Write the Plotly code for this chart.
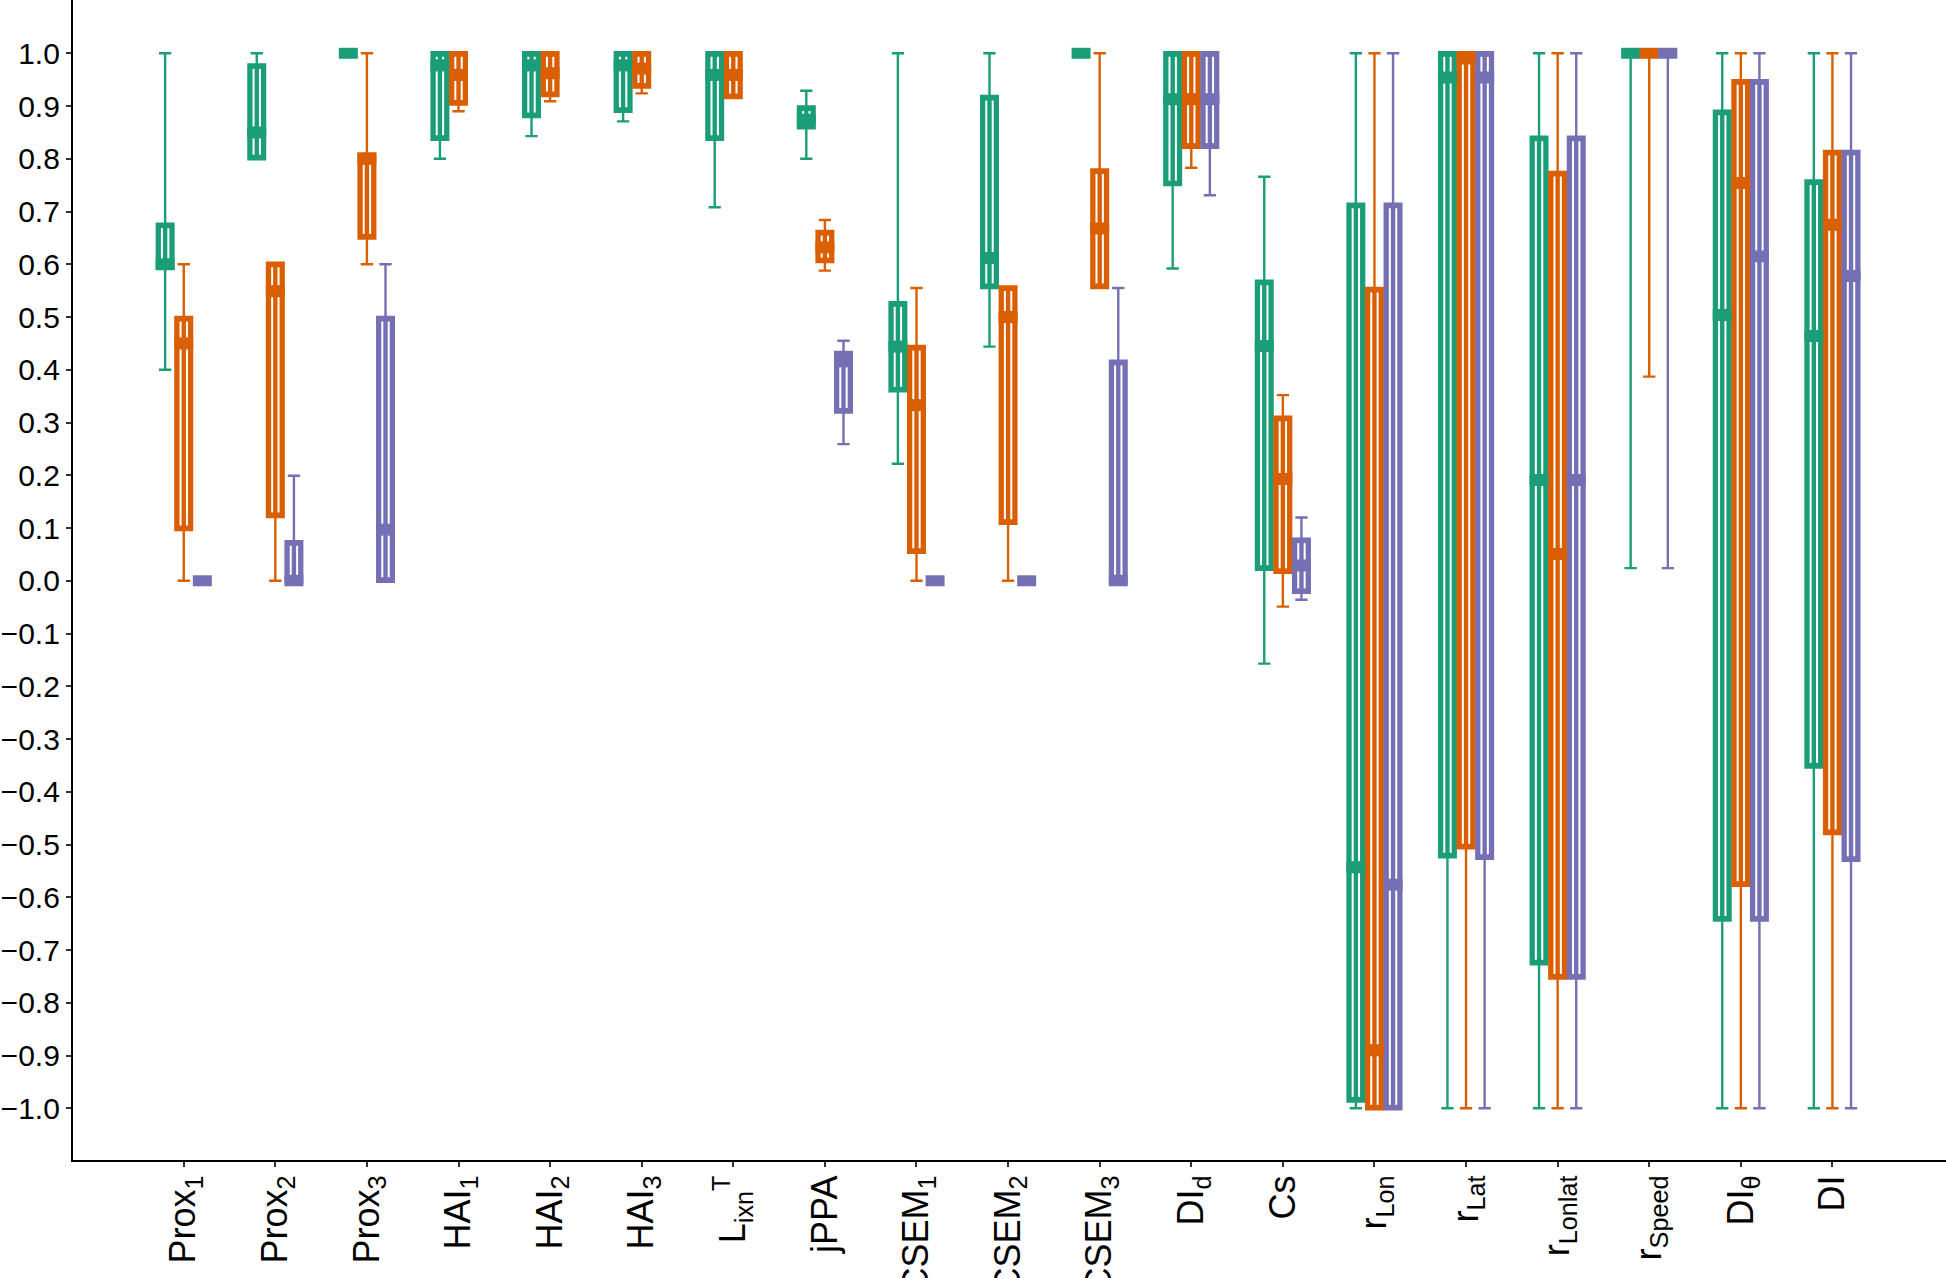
import plotly.graph_objects as go

categories = ["Prox1", "Prox2", "Prox3", "HAI1", "HAI2", "HAI3", "LixnT", "jPPA",
              "CSEM1", "CSEM2", "CSEM3", "DId", "Cs", "rLon", "rLat", "rLonlat",
              "rSpeed", "DItheta", "DI"]
tick_labels = ["Prox<sub>1</sub>", "Prox<sub>2</sub>", "Prox<sub>3</sub>",
               "HAI<sub>1</sub>", "HAI<sub>2</sub>", "HAI<sub>3</sub>",
               "L<sub>ixn</sub><sup>T</sup>", "jPPA",
               "CSEM<sub>1</sub>", "CSEM<sub>2</sub>", "CSEM<sub>3</sub>",
               "DI<sub>d</sub>", "Cs", "r<sub>Lon</sub>", "r<sub>Lat</sub>",
               "r<sub>Lonlat</sub>", "r<sub>Speed</sub>", "DI<sub>θ</sub>", "DI"]
y_tick_values = [round(-1.0 + 0.1 * k, 1) for k in range(21)]

# green series
green_q1 = [0.593, 0.801, 1.0, 0.838, 0.881, 0.891, 0.838, 0.860, 0.361, 0.557, 1.0,
            0.752, 0.023, -0.985, -0.522, -0.725, 1.0, -0.642, -0.352]
green_med = [0.600, 0.850, 1.0, 0.977, 0.977, 0.977, 0.959, 0.874, 0.444, 0.612, 1.0,
             0.913, 0.445, -0.543, 0.954, 0.191, 1.0, 0.504, 0.464]
green_q3 = [0.675, 0.977, 1.0, 1.0, 1.0, 1.0, 1.0, 0.897, 0.526, 0.917, 1.0,
            1.0, 0.567, 0.713, 1.0, 0.840, 1.0, 0.889, 0.757]
green_lo = [0.400, 0.801, 1.0, 0.800, 0.843, 0.871, 0.708, 0.800, 0.222, 0.444, 1.0,
            0.592, -0.157, -1.0, -1.0, -1.0, 0.024, -1.0, -1.0]
green_hi = [1.0, 1.0, 1.0, 1.0, 1.0, 1.0, 1.0, 0.929, 1.0, 1.0, 1.0,
            1.0, 0.766, 1.0, 1.0, 1.0, 1.0, 1.0, 1.0]

# orange series
orange_q1 = [0.098, 0.123, 0.651, 0.905, 0.921, 0.937, 0.917, 0.606, 0.055, 0.110, 0.557,
             0.823, 0.017, -1.0, -0.505, -0.752, 1.0, -0.576, -0.478]
orange_med = [0.450, 0.549, 0.800, 0.959, 0.962, 0.971, 0.959, 0.632, 0.333, 0.500, 0.668,
              0.913, 0.193, -0.890, 0.990, 0.051, 1.0, 0.754, 0.675]
orange_q3 = [0.498, 0.601, 0.808, 1.0, 1.0, 1.0, 1.0, 0.661, 0.443, 0.556, 0.778,
             1.0, 0.309, 0.553, 1.0, 0.773, 1.0, 0.947, 0.813]
orange_lo = [0.0, 0.0, 0.600, 0.890, 0.909, 0.924, 0.917, 0.588, 0.0, 0.0, 0.557,
             0.783, -0.049, -1.0, -1.0, -1.0, 0.387, -1.0, -1.0]
orange_hi = [0.600, 0.601, 1.0, 1.0, 1.0, 1.0, 1.0, 0.684, 0.555, 0.556, 1.0,
             1.0, 0.352, 1.0, 1.0, 1.0, 1.0, 1.0, 1.0]

# purple series (None = not present)
purple_q1 = [0.0, 0.0, 0.0, None, None, None, None, 0.321, 0.0, 0.0, 0.0,
             0.823, -0.021, -1.0, -0.525, -0.752, 1.0, -0.642, -0.529]
purple_med = [0.0, 0.0, 0.097, None, None, None, None, 0.416, 0.0, 0.0, 0.0,
              0.913, 0.029, -0.576, 0.954, 0.191, 1.0, 0.615, 0.578]
purple_q3 = [0.0, 0.073, 0.498, None, None, None, None, 0.432, 0.0, 0.0, 0.415,
             1.0, 0.078, 0.713, 1.0, 0.840, 1.0, 0.947, 0.813]
purple_lo = [0.0, 0.0, 0.0, None, None, None, None, 0.259, 0.0, 0.0, 0.0,
             0.731, -0.036, -1.0, -1.0, -1.0, 0.024, -1.0, -1.0]
purple_hi = [0.0, 0.199, 0.600, None, None, None, None, 0.455, 0.0, 0.0, 0.555,
             1.0, 0.120, 1.0, 1.0, 1.0, 1.0, 1.0, 1.0]

groups = [
    dict(color="#1b9e77", q1=green_q1, med=green_med, q3=green_q3, lo=green_lo, hi=green_hi),
    dict(color="#d95f02", q1=orange_q1, med=orange_med, q3=orange_q3, lo=orange_lo, hi=orange_hi),
    dict(color="#7570b3", q1=purple_q1, med=purple_med, q3=purple_q3, lo=purple_lo, hi=purple_hi),
]

# geometry (styling)
X_RANGE = [-1.209, 19.24]
Y_RANGE = [-1.098, 1.101]
PX_X = 91.6     # pixels per category unit
PX_Y = 527.4    # pixels per value unit
offsets = [-0.203, 0.0, 0.203]
BOX_W = 14.5 / PX_X
BAND_HW = 9.5 / PX_X
STRIP_DX = 3.2 / PX_X
PAD = 3.5 / PX_Y
MED_GAP = 6.0 / PX_Y

fig = go.Figure()
strip_x, strip_y = [], []

for gi, g in enumerate(groups):
    c = g["color"]
    idx = [i for i in range(len(categories)) if g["q1"][i] is not None]
    pos = [i + offsets[gi] for i in idx]
    q1 = [g["q1"][i] for i in idx]
    med = [g["med"][i] for i in idx]
    q3 = [g["q3"][i] for i in idx]
    lo = [g["lo"][i] for i in idx]
    hi = [g["hi"][i] for i in idx]

    # whiskers layer
    fig.add_trace(go.Box(x=pos, q1=q1, median=med, q3=q3, lowerfence=lo, upperfence=hi,
                         width=BOX_W, whiskerwidth=0.85, boxpoints=False,
                         line=dict(color=c, width=2.4), fillcolor=c,
                         showlegend=False, hoverinfo="skip"))
    # thick box body
    fig.add_trace(go.Box(x=pos, q1=q1, median=med, q3=q3, lowerfence=q1, upperfence=q3,
                         width=BOX_W, whiskerwidth=0, boxpoints=False,
                         line=dict(color=c, width=4.5), fillcolor=c,
                         showlegend=False, hoverinfo="skip"))
    # median band
    bx, by = [], []
    for p, m in zip(pos, med):
        bx += [p - BAND_HW, p + BAND_HW, None]
        by += [m, m, None]
    fig.add_trace(go.Scatter(x=bx, y=by, mode="lines", line=dict(color=c, width=11),
                             showlegend=False, hoverinfo="skip"))
    # white inner strips
    for p, a, m, b in zip(pos, q1, med, q3):
        segs = [(a + PAD, m - MED_GAP), (m + MED_GAP, b - PAD)]
        for s0, s1 in segs:
            if s1 - s0 > 0.5 / PX_Y:
                for side in (-1, 1):
                    strip_x += [p + side * STRIP_DX, p + side * STRIP_DX, None]
                    strip_y += [s0, s1, None]

fig.add_trace(go.Scatter(x=strip_x, y=strip_y, mode="lines",
                         line=dict(color="white", width=2),
                         showlegend=False, hoverinfo="skip"))

yfont = dict(family="Arial, 'Liberation Sans', sans-serif", size=30, color="black")
xfont = dict(family="Arial, 'Liberation Sans', sans-serif", size=36, color="black")

fig.update_layout(
    width=1946, height=1278,
    margin=dict(l=73, r=0, t=0, b=118, pad=0, autoexpand=False),
    paper_bgcolor="white", plot_bgcolor="white",
    boxmode="overlay", showlegend=False,
    font=yfont,
    xaxis=dict(range=X_RANGE, tickmode="array", tickvals=list(range(len(categories))),
               ticktext=tick_labels, tickangle=-90, tickfont=xfont,
               showline=True, linecolor="black", linewidth=2.3,
               ticks="outside", ticklen=5, tickwidth=2, tickcolor="#333333",
               ticklabelstandoff=-6,
               showgrid=False, zeroline=False, automargin=False),
    yaxis=dict(range=Y_RANGE, tickmode="array", tickvals=y_tick_values,
               ticktext=[("%.1f" % v).replace("-", "\u2212") for v in y_tick_values],
               tickfont=yfont,
               showline=True, linecolor="black", linewidth=2.3,
               ticks="outside", ticklen=5, tickwidth=2, tickcolor="#333333",
               showgrid=False, zeroline=False, automargin=False),
)

fig.write_html("out.html", config={"displayModeBar": False},
               post_script="document.body.style.margin='0';document.body.style.padding='0';")
